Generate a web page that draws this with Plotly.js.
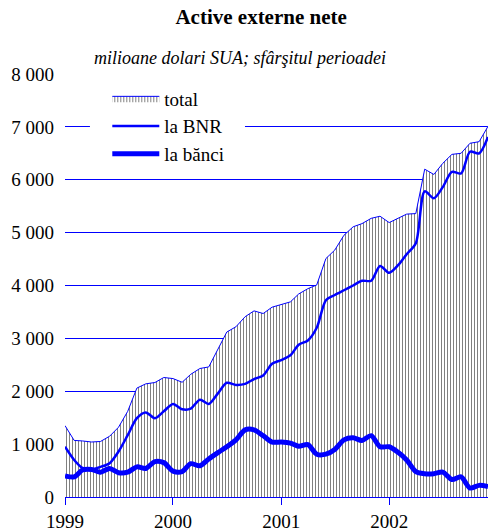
<!DOCTYPE html>
<html>
<head>
<meta charset="utf-8">
<script src="https://cdn.plot.ly/plotly-3.0.1.min.js"></script>
<style>body{margin:0;background:#fff}</style>
</head>
<body>
<div id="chart" style="width:489px;height:531px"></div>
<script>
// monthly, Jan 1999 - Dec 2002
const years = [1999, 2000, 2001, 2002];
const months = [];
years.forEach(y => {
  for (let m = 1; m <= 12; m++) months.push(y + '-' + String(m).padStart(2, '0') + '-01');
});

const total = [1350, 1070, 1060, 1040, 1050, 1150, 1320, 1620, 2060, 2140, 2165, 2260,
               2240, 2170, 2320, 2430, 2460, 2800, 3120, 3220, 3410, 3520, 3470, 3590,
               3640, 3690, 3840, 3940, 4010, 4510, 4670, 4950, 5110, 5170, 5270, 5310,
               5190, 5270, 5350, 5360, 6200, 6100, 6310, 6480, 6500, 6690, 6720, 7010];
const bnr = [950, 700, 550, 520, 570, 640, 860, 1170, 1490, 1600, 1490, 1620,
             1760, 1660, 1670, 1840, 1760, 1960, 2160, 2120, 2140, 2230, 2300, 2520,
             2590, 2680, 2880, 2960, 3200, 3720, 3820, 3910, 4000, 4090, 4090, 4370,
             4240, 4390, 4590, 4800, 5780, 5650, 5860, 6150, 6120, 6530, 6500, 6810];
const banci = [400, 380, 510, 520, 470, 540, 460, 470, 570, 540, 670, 650,
               490, 480, 630, 590, 720, 840, 950, 1080, 1270, 1270, 1160, 1040,
               1040, 1020, 960, 990, 810, 810, 900, 1080, 1120, 1070, 1160, 950,
               950, 840, 700, 480, 440, 440, 470, 330, 380, 170, 220, 200];

const yTicks = [0, 1000, 2000, 3000, 4000, 5000, 6000, 7000, 8000];
const xTicks = years.map(y => y + '-01-01');

const serif = '"Liberation Serif", "Times New Roman", serif';

const data = [
  {
    x: months, y: total, name: 'total', type: 'scatter', mode: 'lines',
    fill: 'tozeroy',
    fillpattern: {shape: '|', size: 3, solidity: 0.34, fgcolor: '#808080', bgcolor: '#ffffff'},
    line: {color: '#0000ff', width: 1}
  },
  {
    x: months, y: bnr, name: 'la BNR', type: 'scatter', mode: 'lines',
    line: {color: '#0000ff', width: 2.5, shape: 'spline', smoothing: 0.8}
  },
  {
    x: months, y: banci, name: 'la bănci', type: 'scatter', mode: 'lines',
    line: {color: '#0000ff', width: 5, shape: 'spline', smoothing: 0.8}
  }
];

const layout = {
  width: 489, height: 531,
  margin: {l: 65, r: 1, t: 74, b: 34},
  paper_bgcolor: '#fff', plot_bgcolor: '#fff',
  font: {family: serif, size: 19, color: '#000'},
  separators: '. ',
  title: {
    text: '<b>Active externe nete</b>',
    font: {family: serif, size: 21, color: '#000'},
    x: 0.534, xanchor: 'center', y: 0.968, yanchor: 'middle'
  },
  annotations: [{
    text: '<i>milioane dolari SUA; sfârşitul perioadei</i>',
    xref: 'paper', yref: 'paper', x: 0.414, y: 1.038,
    xanchor: 'center', yanchor: 'middle', showarrow: false,
    font: {family: serif, size: 18, color: '#000'}
  }],
  // white patch behind the legend, hides part of the 7 000 gridline
  shapes: [{
    type: 'rect', xref: 'paper', yref: 'paper', layer: 'above',
    x0: 0.059, x1: 0.4255, y0: 0.77, y1: 0.975,
    fillcolor: '#fff', line: {width: 0}
  }],
  xaxis: {
    type: 'date',
    range: ['1999-01-01', '2002-12-01'],
    tickvals: xTicks, tickformat: '%Y',
    ticks: 'outside', ticklen: 7, tickcolor: '#0000ff', tickwidth: 1,
    showline: true, linecolor: '#0000ff', linewidth: 1,
    showgrid: false, zeroline: false,
    tickfont: {family: serif, size: 19, color: '#000'}
  },
  yaxis: {
    range: [0, 8000],
    tickvals: yTicks, tickformat: ',',
    showgrid: true, gridcolor: '#0000ff', gridwidth: 1,
    zeroline: false, showline: false,
    ticklabelstandoff: 10,
    tickfont: {family: serif, size: 19, color: '#000'}
  },
  showlegend: true,
  legend: {
    x: 0.1, xanchor: 'left', y: 0.987, yanchor: 'top',
    bgcolor: 'rgba(0,0,0,0)', borderwidth: 0,
    itemwidth: 47, traceorder: 'normal',
    font: {family: serif, size: 19, color: '#000'}
  }
};

Plotly.newPlot('chart', data, layout, {displayModeBar: false, staticPlot: true});
</script>
</body>
</html>
